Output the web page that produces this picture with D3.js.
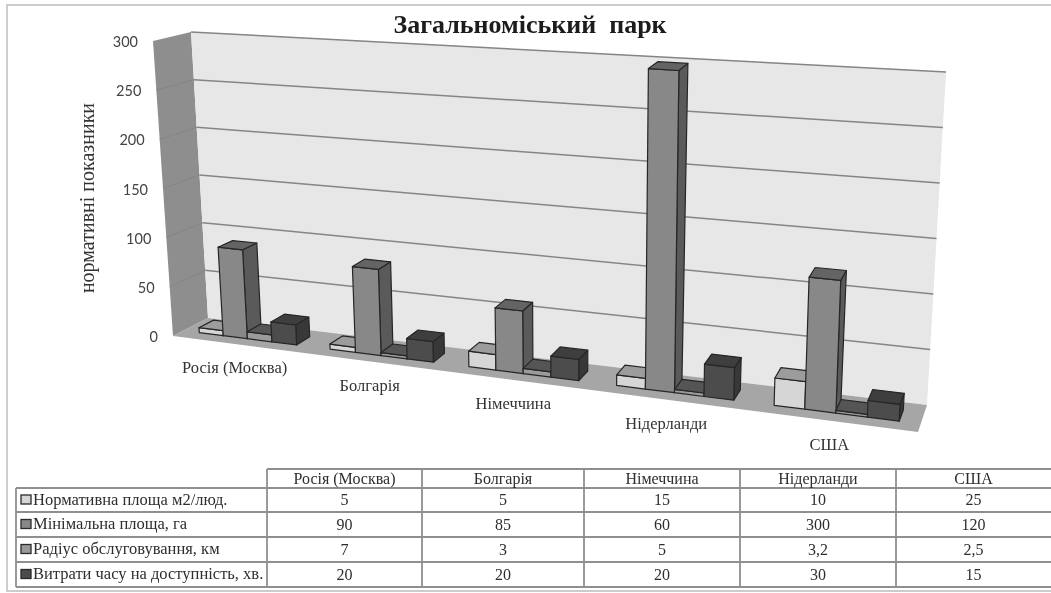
<!DOCTYPE html>
<html>
<head>
<meta charset="utf-8">
<style>
  html, body { margin: 0; padding: 0; background: #fff; }
  svg { display: block; filter: blur(0.4px); }
  text { white-space: pre; }
</style>
<script src="https://cdn.jsdelivr.net/npm/d3@7"></script>
</head>
<body>
<div id="chart"></div>
<script>
// chart values
const chartTitle = 'Загальноміський  парк';
const yTitle = 'нормативні показники';
const categories = ['Росія (Москва)', 'Болгарія', 'Німеччина', 'Нідерланди', 'США'];
const seriesNames = [
  'Нормативна площа м2/люд.',
  'Мінімальна площа, га',
  'Радіус обслуговування, км',
  'Витрати часу на доступність, хв.'
];
const normArea = [5, 5, 15, 10, 25];
const minArea = [90, 85, 60, 300, 120];
const serviceRadius = [7, 3, 5, 3.2, 2.5];
const travelTime = [20, 20, 20, 30, 15];
const yTicks = [0, 50, 100, 150, 200, 250, 300];

const seriesValues = [normArea, minArea, serviceRadius, travelTime];

const width = 1051;
const height = 593;

// front / side / top shades of each series
const shades = [
  { front: '#d6d6d6', side: '#a8a8a8', top: '#9c9c9c' },
  { front: '#888888', side: '#5a5a5a', top: '#646464' },
  { front: '#9a9a9a', side: '#4c4c4c', top: '#555555' },
  { front: '#4c4c4c', side: '#383838', top: '#3e3e3e' }
];

const svg = d3.select('#chart').append('svg')
  .attr('width', width)
  .attr('height', height)
  .style('background', '#fff');

/*
* 3D box corners of the plot on screen. u runs along categories, v from the
* front edge (0) to the back wall (1), h is value height 0..1
*/
const box = {
  frontBottomLeft: [173, 336], frontBottomRight: [918, 432],
  frontTopLeft: [153, 41], frontTopRight: [933, 93],
  backBottomLeft: [208, 318], backBottomRight: [927, 405],
  backTopLeft: [191, 32], backTopRight: [946, 72]
};

const xBand = d3.scaleBand().domain(categories).range([0, 1]).paddingInner(0.25).paddingOuter(0.125);
const seriesBand = d3.scaleBand().domain(d3.range(seriesNames.length)).range([0, xBand.bandwidth()]);
const yScale = d3.scaleLinear().domain([0, 300]).range([0, 1]);

const barFront = 0.3;
const barBack = 0.72;
const foreshorten = 1.17; // bars grow towards the right of the picture

function lerp(a, b, t) {
  return [a[0] + (b[0] - a[0]) * t, a[1] + (b[1] - a[1]) * t];
}

function project(u, v, h) {
  const w = u / (foreshorten - (foreshorten - 1) * u);
  const frontLow = lerp(box.frontBottomLeft, box.frontBottomRight, w);
  const frontHigh = lerp(box.frontTopLeft, box.frontTopRight, w);
  const backLow = lerp(box.backBottomLeft, box.backBottomRight, w);
  const backHigh = lerp(box.backTopLeft, box.backTopRight, w);
  return lerp(lerp(frontLow, frontHigh, h), lerp(backLow, backHigh, h), v);
}

function polygon(points) {
  return points.map((p) => p[0].toFixed(1) + ',' + p[1].toFixed(1)).join(' ');
}

// outer frame of the pasted chart
svg.append('rect')
  .attr('x', 7).attr('y', 5)
  .attr('width', width + 10).attr('height', 586)
  .attr('fill', 'none')
  .attr('stroke', '#bdbdbd')
  .attr('stroke-width', 1.5);

// title
svg.append('text')
  .attr('x', 530).attr('y', 33)
  .attr('text-anchor', 'middle')
  .attr('font-family', '"Liberation Serif", serif')
  .attr('font-weight', 'bold')
  .attr('font-size', 26)
  .attr('fill', '#1c1c1c')
  .text(chartTitle);

// walls
const walls = svg.append('g');
walls.append('polygon')
  .attr('points', polygon([project(0, 0, 0), project(0, 0, 1), project(0, 1, 1), project(0, 1, 0)]))
  .attr('fill', '#8e8e8e');
walls.append('polygon')
  .attr('points', polygon([project(0, 1, 0), project(0, 1, 1), project(1, 1, 1), project(1, 1, 0)]))
  .attr('fill', '#e7e7e7');
walls.append('polygon')
  .attr('points', polygon([project(0, 0, 0), project(0, 1, 0), project(1, 1, 0), project(1, 0, 0)]))
  .attr('fill', '#a6a6a6');

// gridlines on the back and side wall
yTicks.forEach((t) => {
  const h = yScale(t);
  const corner = project(0, 1, h);
  const right = project(1, 1, h);
  const front = project(0, 0, h);
  if (t > 0) {
    walls.append('line')
      .attr('x1', corner[0]).attr('y1', corner[1])
      .attr('x2', right[0]).attr('y2', right[1])
      .attr('stroke', '#858585')
      .attr('stroke-width', 1.5);
  }
  if (t > 0 && t < 300) {
    walls.append('line')
      .attr('x1', corner[0]).attr('y1', corner[1])
      .attr('x2', front[0]).attr('y2', front[1])
      .attr('stroke', '#858585')
      .attr('stroke-width', 1);
  }
});

// y tick labels follow the slanted front edge of the side wall
svg.append('g').selectAll('text')
  .data(yTicks)
  .enter()
  .append('text')
  .attr('x', (d) => project(0, 0, yScale(d))[0] - 15)
  .attr('y', (d) => project(0, 0, yScale(d))[1] + 6)
  .attr('text-anchor', 'end')
  .attr('font-family', 'Lato, sans-serif')
  .attr('font-size', 14.5)
  .attr('fill', '#444')
  .text((d) => d);

// y axis title
svg.append('text')
  .attr('transform', 'translate(94,198) rotate(-90)')
  .attr('text-anchor', 'middle')
  .attr('font-family', '"Liberation Serif", serif')
  .attr('font-size', 20)
  .attr('fill', '#333')
  .text(yTitle);

// bars, left to right so each box covers the side of the one before it
const bars = svg.append('g');
categories.forEach((cat, c) => {
  seriesValues.forEach((values, s) => {
    const u0 = xBand(cat) + seriesBand(s);
    const u1 = u0 + seriesBand.bandwidth();
    const h = yScale(values[c]);
    const shade = shades[s];
    const faces = [
      { fill: shade.side, pts: [project(u1, barFront, 0), project(u1, barBack, 0), project(u1, barBack, h), project(u1, barFront, h)] },
      { fill: shade.front, pts: [project(u0, barFront, 0), project(u1, barFront, 0), project(u1, barFront, h), project(u0, barFront, h)] },
      { fill: shade.top, pts: [project(u0, barFront, h), project(u1, barFront, h), project(u1, barBack, h), project(u0, barBack, h)] }
    ];
    bars.selectAll(null)
      .data(faces)
      .enter()
      .append('polygon')
      .attr('points', (d) => polygon(d.pts))
      .attr('fill', (d) => d.fill)
      .attr('stroke', '#262626')
      .attr('stroke-width', 1.2)
      .attr('stroke-linejoin', 'round');
  });
});

// category labels under the front edge
svg.append('g').selectAll('text')
  .data(categories)
  .enter()
  .append('text')
  .attr('x', (d) => project(xBand(d) + xBand.bandwidth() / 2, 0, 0)[0] - 3)
  .attr('y', (d) => project(xBand(d) + xBand.bandwidth() / 2, 0, 0)[1] + 29)
  .attr('text-anchor', 'middle')
  .attr('font-family', '"Liberation Serif", serif')
  .attr('font-size', 16.5)
  .attr('fill', '#333')
  .text((d) => d);

/*
* DATA TABLE
*/
const colEdges = [267, 422, 584, 740, 896, 1051];
const rowEdges = [469, 488, 512, 537, 562, 587];
const tableLeft = 16;
const tableColor = '#8f8f8f';

const table = svg.append('g');

function tableLine(x1, y1, x2, y2) {
  table.append('line')
    .attr('x1', x1).attr('y1', y1)
    .attr('x2', x2).attr('y2', y2)
    .attr('stroke', tableColor)
    .attr('stroke-width', 1.8);
}

rowEdges.forEach((y, i) => {
  tableLine(i === 0 ? colEdges[0] : tableLeft, y, width, y);
});
colEdges.slice(0, -1).forEach((x) => {
  tableLine(x, rowEdges[0], x, rowEdges[rowEdges.length - 1]);
});
tableLine(tableLeft, rowEdges[1], tableLeft, rowEdges[rowEdges.length - 1]);

function cellText(x, y, anchor, str, size) {
  table.append('text')
    .attr('x', x).attr('y', y)
    .attr('text-anchor', anchor)
    .attr('font-family', '"Liberation Serif", serif')
    .attr('font-size', size)
    .attr('fill', '#2e2e2e')
    .text(str);
}

categories.forEach((cat, c) => {
  cellText((colEdges[c] + colEdges[c + 1]) / 2, rowEdges[0] + 15, 'middle', cat, 16);
});

seriesNames.forEach((name, s) => {
  const rowMid = (rowEdges[s + 1] + rowEdges[s + 2]) / 2;
  table.append('rect')
    .attr('x', 21).attr('y', rowMid - 5)
    .attr('width', 10).attr('height', 9)
    .attr('fill', shades[s].front)
    .attr('stroke', '#2a2a2a')
    .attr('stroke-width', 1.3);
  cellText(33, rowMid + 4.5, 'start', name, 16.5);
  seriesValues[s].forEach((v, c) => {
    cellText((colEdges[c] + colEdges[c + 1]) / 2, rowMid + 5, 'middle', String(v).replace('.', ','), 16);
  });
});
</script>
</body>
</html>
